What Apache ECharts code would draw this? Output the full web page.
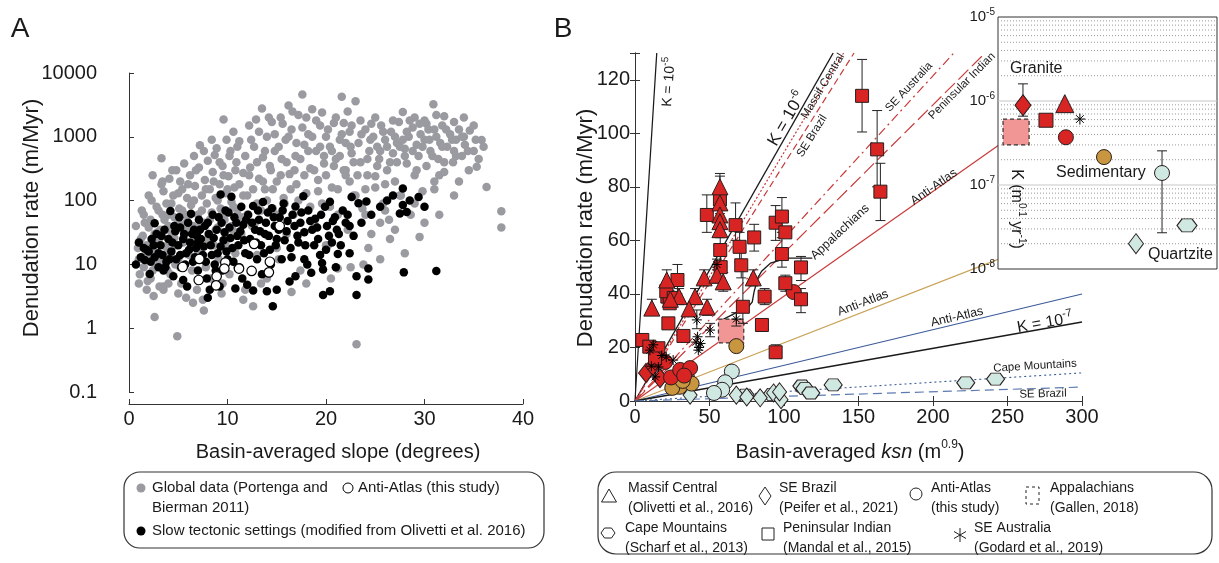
<!DOCTYPE html>
<html><head><meta charset="utf-8">
<script src="https://cdn.jsdelivr.net/npm/echarts@6/dist/echarts.min.js"></script>
<style>html,body{margin:0;padding:0;background:#fff}#c{width:1219px;height:563px}</style>
</head><body><div id="c"></div>
<script>
// ---------------- Panel A data: [slope (deg), denudation rate (m/Myr)] ----------------
const globalData = [
[0.7,40],[0.9,18],[1.0,12],[1.1,7],[1.3,70],[1.4,28],[1.5,9],[1.6,45],[1.8,20],[1.9,5.5],[2.0,38],[2.1,14],[2.2,6],[2.3,100],[2.4,250],[2.5,16],[2.6,1.5],[2.7,9],[2.8,80],[2.9,32],[3.0,24],[3.1,4.5],[3.2,11],[3.3,460],[3.3,180],[3.4,60],[3.5,4],[3.5,140],[3.6,50],[3.7,19],[3.8,35],[3.9,8],[4.0,60],[4.0,16],[4.1,220],[4.2,7],[4.3,90],[4.4,30],[4.5,120],[4.6,26],[4.7,10],[4.8,300],[4.9,0.75],[5.0,45],[5.0,12],[5.1,75],[5.2,200],[5.3,5],[5.4,150],[5.5,22],[5.6,380],[5.7,60],[5.8,3],[5.9,110],[6.0,35],
[6.1,14],[6.2,250],[6.3,85],[6.4,8],[6.5,40],[6.6,500],[6.7,170],[6.8,25],[6.9,4],[7.0,60],[7.1,330],[7.2,740],[7.3,18],[7.4,120],[7.5,2.8],[7.6,45],[7.7,210],[7.8,9],[7.9,90],[8.0,420],[8.1,30],[8.2,150],[8.3,6],[8.4,65],[8.5,280],[8.6,20],[8.7,520],[8.8,110],[8.9,660],[9.0,38],[9.1,12],[9.2,180],[9.3,75],[9.4,3.5],[9.5,350],[9.6,1870],[9.7,50],[9.8,130],[9.9,900],[10.0,25],[10.1,240],[10.2,7],[10.3,600],[10.4,95],[10.5,35],[10.6,1200],[10.7,160],[10.8,15],[10.9,400],[11.0,70],[11.2,850],[11.4,55],[11.6,270],[11.8,4],[12.0,120],
[12.2,1500],[12.3,330],[12.5,40],[12.7,700],[12.9,1870],[13.0,90],[13.2,220],[13.4,5],[13.5,2770],[13.6,480],[13.8,150],[14.0,1000],[14.1,28],[14.3,350],[14.5,1700],[14.6,75],[14.8,600],[15.0,200],[15.2,12],[15.4,2000],[15.5,450],[15.7,110],[15.9,900],[16.0,30],[16.2,3100],[16.3,260],[16.5,1300],[16.7,60],[16.9,500],[17.0,180],[17.2,2200],[17.4,8],[17.6,4600],[17.8,750],[18.0,130],[18.2,1100],[18.4,320],[18.6,2700],[18.8,45],[19.0,600],[19.2,210],[19.4,1500],[19.6,90],[19.8,380],[20.0,1000],[20.2,20],[20.4,700],[20.6,160],[20.8,1640],[21.0,450],[21.2,60],[21.4,900],[21.6,4250],[21.8,1640],[22.0,250],[22.2,35],[22.4,1200],[22.6,550],[22.8,120],[23.0,3600],[23.1,0.56],
[23.3,800],[23.5,400],[23.7,75],[24.0,1300],[24.2,250],[24.4,600],[24.6,30],[24.8,1000],[25.0,160],[25.2,700],[25.4,450],[25.6,1500],[25.8,90],[26.0,900],[26.2,300],[26.4,50],[26.6,1200],[26.8,550],[27.0,200],[27.2,800],[27.4,1700],[27.6,120],[27.8,2450],[28.0,650],[28.2,380],[28.4,1000],[28.6,60],[28.8,1400],[29.0,250],[29.2,750],[29.4,500],[29.6,1100],[29.8,140],[30.0,900],[30.2,350],[30.4,1300],[30.6,600],[30.9,3240],[31.0,200],[31.2,1000],[31.4,450],[31.6,800],[31.8,1500],[32.0,280],[32.3,700],[32.6,1100],[32.9,400],[33.2,900],[33.5,1300],[33.8,500],[34.1,750],[34.6,1260],[35.0,600],[35.3,340],[35.8,890],[36.3,163],[37.8,68],[37.8,38],[24.3,18],[26.5,25],[22.5,9],[20.5,6],
[21.2,8.6],[23.8,10],[16.5,3.7],[12.6,2.2],[11.6,2.8],[7.6,1.9],[28,15],[29.5,27],[18,5],[14,6],[25.5,12],[27,35],[30,45],[26,70],[31.5,60],[33,120],[24,150],[22,300],[20,20],[9.5,5],[11,9],[13,14],[15,18],
[25,2000],[27,1000],[28,500],[29,2000],[30,1800],[31,1300],[32,2100],[33,1700],[34,2000],[34,1000],[33,600],[32,400],[31.5,250],[30.5,900],[29.5,1600],[28.5,1800],[27.5,700],[26.5,400],[25.5,600],[24.5,900],[23.5,1800],[22.5,700],[35,1500],[36,700],[35.5,450],[34.5,300],[33.5,200],[31,150],[29,90],[27.5,120],[26,180],[25,240],[23,120],[24,60],[25.5,45],
[1.8,4],[2.5,3.2],[3.5,4.5],[5,3.5],[6.5,2.5],[1,5],[4,5],
[1.2,25],[1.5,60],[1.7,15],[2.0,120],[2.2,50],[2.4,8],[2.6,30],[2.8,12],[3.0,70],[3.2,35],[3.4,200],[3.6,10],[3.8,90],[4.0,40],[4.2,15],[4.4,300],[4.6,55],[4.8,20],[5.0,130],[5.2,9],[5.4,70],[5.6,25],[5.8,45],[6.0,180],[6.2,60],[6.4,20],[6.6,100],[6.8,300],[7.0,15],[7.2,40],[7.4,70],[7.6,600],[7.8,150],[8.0,25],[8.2,50],[8.4,900],[8.6,200],[8.8,35],[9.0,100],[9.2,400],[9.4,60],[9.6,250],[9.8,20],[10.0,150],[10.2,500],[10.4,40],[10.6,80],[10.8,300],[11.0,700],[11.2,180],[11.4,30],[11.6,120],[11.8,500],[12.0,60],[12.2,250],[12.4,900],[12.6,150],[12.8,45],[13.0,400],[13.2,1200],[13.4,70],[13.6,200],[13.8,600],[14.0,100],[14.2,2000],[14.4,300],[14.6,150],[14.8,1100],[15.0,60],[15.2,700],[15.4,250],[15.6,1600],[15.8,90],[16.0,400],[16.2,1000],[16.4,150],[16.6,2500],[16.8,300],[17.0,800],[17.2,100],[17.4,450],[17.6,1400],[17.8,250],[18.0,2000],[18.2,600],[18.4,80],[18.6,1000],[18.8,300],[19.0,1800],[19.2,140],[19.4,700],[19.6,2400],[19.8,500],[20.0,250],[20.2,1300],[20.4,80],[20.6,600],[20.8,350],[21.0,2000],[21.2,150],[21.4,500],[21.6,1100],[21.8,300],[22.0,800],[22.2,2500],[22.4,200],[22.6,1500],[22.8,400],[23.2,250],[23.6,1100],[24.2,450],[24.6,1600],[25.2,350],[25.8,1200],[26.2,700],[26.8,1800],[27.2,400],[27.8,900],[28.2,1200],[28.8,600],[29.2,300],[29.8,700],[30.2,1600],[30.8,500],[31.2,2200],[31.8,700],[32.2,1300],[32.8,900],[33.2,500],[33.8,1000],[34.4,600],[35.2,900]
];
const slowTectonic = [
[0.7,10],[1.2,13],[1.6,11.7],[1.8,17],[2.1,7.1],[2.3,25],[2.6,13],[2.6,44],[2.8,30],[3.0,9],[3.2,20],[3.4,14],[3.6,35],[3.8,11],[4.0,25],[4.2,69],[4.3,16],[4.5,6.5],[4.6,40],[4.8,12],[5.0,20],[5.1,55],[5.3,9],[5.5,5.7],[5.6,30],[5.8,15],[5.9,4.5],[6.0,45],[6.2,22],[6.3,62],[6.5,11],[6.6,35],[6.8,18],[7.0,8],[7.1,50],[7.3,25],[7.5,14],[7.7,40],[7.9,6],[8.0,3],[8.1,30],[8.2,4],[8.3,20],[8.5,60],[8.7,10],[8.9,35],[9.0,15],[9.2,4.5],[9.3,125],[9.4,45],[9.6,24],[9.8,70],[10.0,12],[10.2,38],[10.4,115],[10.5,18],[10.7,55],[10.8,4.2],[11.0,28],[11.2,9],[11.4,80],[11.6,42],[11.8,15],[12.0,4.8],[12.1,60],[12.3,25],[12.6,82],[12.6,3.9],[12.8,35],[13.0,12],[13.2,50],[13.4,20],[13.6,95],[13.8,30],[14.0,3.8],[14.1,65],[14.3,17],[14.5,76],[14.6,2.2],[14.8,40],[15.0,4],[15.0,25],[15.3,55],[15.5,12],[15.7,90],[16.0,33],[16.3,5.4],[16.4,18],[16.6,60],[16.9,81],[16.9,6.5],[17.1,28],[17.4,45],[17.7,117],[17.9,20],[18.2,70],[18.5,7.4],[18.6,35],[18.9,52],[19.2,25],[19.4,14],[19.6,10.5],[19.7,8.3],[19.7,3.3],[19.9,80],[20.1,40],[20.4,96],[20.4,3.8],[20.6,22],[20.9,55],[21.2,14.5],[21.3,30],[21.7,70],[22.0,45],[22.4,40],[22.4,15],[22.6,114],[23.1,6.5],[23.1,3.3],[23.3,91],[24.1,97],[24.3,8.6],[24.3,5.8],[24.6,60],[26.8,120],[27.5,63],[27.8,155],[27.8,85],[27.9,7.5],[28.2,66],[29.4,114],[31.2,7.9],[1.0,22],[2.0,16],[3.5,8],[5.2,38],[6.9,28],[9.5,8],[11.5,6],[13.5,7],[17.8,12],[21.0,9],
[1.5,18],[2.2,11],[2.5,20],[3.0,15],[3.3,28],[3.7,9],[4.1,12],[4.4,22],[4.7,33],[5.2,14],[5.5,25],[5.7,10],[6.1,17],[6.4,30],[6.7,13],[7.0,22],[7.2,35],[7.6,19],[7.8,11],[8.0,45],[8.4,14],[8.6,26],[8.8,8],[9.1,55],[9.3,19],[9.7,32],[9.9,16],[10.1,65],[10.3,26],[10.6,11],[10.9,45],[11.1,20],[11.3,33],[11.7,24],[11.9,50],[12.2,14],[12.5,45],[12.9,22],[13.1,70],[13.3,33],[13.7,15],[13.9,45],[14.2,28],[14.4,10],[14.7,55],[14.9,20],[15.2,35],[15.6,70],[15.8,24],[16.1,48],[16.5,13],[16.8,40],[17.2,22],[17.5,65],[17.8,32],[18.1,10],[18.4,48],[18.8,20],[19.1,38],[19.5,60],[20.0,17],[20.3,28],[20.7,48],[21.1,35],[21.5,20],[22.2,60],[22.8,28],[23.6,45],[25.5,80],[26.2,100],[28.5,100],[30,80]
];
const antiAtlasA = [[5.45,9.1],[7.14,12.2],[7.08,5.7],[8.9,6.5],[8.84,4.7],[9.78,10.7],[9.68,8.6],[11.17,8.6],[12.45,7.9],[14.3,11],[14.2,7.5],[12.7,21],[15.3,40]];
const slopeTicks = [0,10,20,30,40];

// ---------------- Panel B data: [ksn, denudation rate, errLow, errHigh] ----------------
const massifCentral = [[57,80,75,85],[57,74,null,null],[57,69.5,null,null],[57,67,null,null],[57,64,null,null],[21.3,45.2,42,49],[29.6,39,36,42],[40.3,39,36,42],[36.3,34.4,null,null],[48.4,35.1,32,38],[46.4,46,43,49],[55,47,44,50],[59.2,44.5,41,48],[79.4,46,43,49],[11.3,34.7,32,38],[23.7,38,null,null]];
const peninsularIndian = [[152.4,114,100.5,127.6],[162.5,94,80,108.5],[164.7,78.2,67.4,88.8],[48.2,69.5,63,77],[57,75.3,70,84],[57.2,56.4,52,61],[57.5,50,46,54],[67.5,65.7,60,74],[70.2,57.6,52,63],[71.3,50.7,46,56],[72.4,35.2,29,49.6],[80,61.1,56,66],[87,39,36,42],[85.2,28.4,26,30],[94.4,18.2,16,21],[94.4,66.6,60,73],[98.6,68.9,63,76],[100.9,63,null,null],[98.6,54.9,50,61],[100.9,44,41,47],[111.4,49.9,45,54],[111.4,38,33,42],[4.9,22.8,null,null],[9.6,20.3,null,null],[15.7,19.7,null,null],[13.4,15.9,null,null],[22.4,29,27,31],[21.7,39,null,null],[28.5,45.2,40,51],[23.3,36.5,null,null],[32.5,24.3,null,null],[21,41,38,44],[26,38.5,null,null]];
const seBrazilGranite = [[7.4,10.5],[16.8,8.5],[12,13]];
const antiAtlasGranite = [[24.2,8.8],[30.3,11.6],[37,12.3],[20.2,14.6],[106.5,40.7],[33,9.5]];
const antiAtlasSedimentary = [[68,20.5],[35,8.6],[30,5.3],[38,6.5],[25,4.9],[32,7.5]];
const antiAtlasQuartzite = [[65,11],[60.5,7],[58.5,4.2],[53,3]];
const seBrazilQuartzite = [[37,2.2],[68,2.2],[75,1.5],[84,1.2],[93,3],[98,0.5],[97,3.4]];
const capeMountains = [[74,2.2],[92,2.5],[112,5.6],[114,4.6],[118,3],[133,6],[222,6.8],[242,8.2]];
const seAustralia = [[41,22,null,null],[43,20,null,null],[42,24,null,null],[44,21.5,null,null],[42.5,19,null,null],[50.4,26.5,24,29],[41.5,30.3,27,34],[68,30.6,28,33],[21,16.4,null,null],[25.6,15.3,null,null],[12.3,21,null,null],[15.7,12.7,null,null],[13.5,9,null,null],[55,51,49,53],[18,17,null,null],[11,13,null,null],[10,19,null,null]];
const appalachiansBox = [[56,73,21.7,30.6]];           // ksn range, rate range
const appalachiansArrow = [[119,53.4],[102,53.4],[91,51.5],[85,48.5],[82.7,46.3],[80,41],[78.7,37],[75.3,34.7],[68.6,33.2],[58.5,30.3]];
// K lines: end points of straight lines through the origin
const kLines = [
  {name:'K = 1e-5', end:[14.6,130], color:'#1a1a1a', width:1.2, type:'solid'},
  {name:'K = 1e-6', end:[133,130], color:'#1a1a1a', width:1.4, type:'solid'},
  {name:'Massif Central', end:[140,130], color:'#c93a3a', width:1.2, type:[2,2]},
  {name:'SE Brazil', end:[147,130], color:'#c93a3a', width:1.2, type:[7,4]},
  {name:'SE Australia', end:[214,130], color:'#c93a3a', width:1.2, type:[9,4,2,4]},
  {name:'Peninsular Indian', end:[235,130], color:'#c93a3a', width:1.2, type:[14,5]},
  {name:'Anti-Atlas granite', end:[244,95.5], color:'#c93a3a', width:1.2, type:'solid'},
  {name:'Anti-Atlas sedimentary', end:[244,53], color:'#c9a45a', width:1.1, type:'solid'},
  {name:'Anti-Atlas quartzite', end:[300,40], color:'#3b5a98', width:1.1, type:'solid'},
  {name:'K = 1e-7', end:[300,29.5], color:'#1a1a1a', width:1.4, type:'solid'},
  {name:'Cape Mountains', end:[300,10.5], color:'#3b5a98', width:1.1, type:[2,3]},
  {name:'SE Brazil quartzite', end:[300,5.2], color:'#5d7bb0', width:1.2, type:[9,5]}
];
const ksnTicks = [0,50,100,150,200,250,300];
const rateTicks = [0,20,40,60,80,100,120];

// ---------------- Inset data: [position, K, errLow, errHigh] ----------------
const insetAppalachians = [[0.23,1.42,3.0e-7,6.1e-7]];
const insetSEBrazilGranite = [[1.14,8.9e-7,6.6e-7,1.6e-6]];
const insetPeninsular = [[2.19,5.9e-7,null,null]];
const insetMassif = [[3.05,9.3e-7,null,null]];
const insetAntiAtlasGranite = [[3.1,3.7e-7,null,null]];
const insetSEAustralia = [[3.74,6.1e-7,null,null]];
const insetSedimentary = [[4.84,2.15e-7,null,null]];
const insetSEBrazilQuartz = [[6.3,2.0e-8,null,null]];
const insetQuartzite = [[7.49,1.39e-7,2.7e-8,2.55e-7]];
const insetCape = [[8.63,3.3e-8,null,null]];
const insetMajor = [1e-7,1e-6];
const insetMinor = [2e-8,3e-8,4e-8,5e-8,6e-8,7e-8,8e-8,9e-8,2e-7,3e-7,4e-7,5e-7,6e-7,7e-7,8e-7,9e-7,2e-6,3e-6,4e-6,5e-6,6e-6,7e-6,8e-6,9e-6];

// ---------------- styles ----------------
const F = '"Liberation Sans", Arial, Helvetica, sans-serif';
const RED = '#d92424', GOLD = '#c99640', PALE = '#cfe8e2', PINK = '#f29595', EDGE = '#2a1d1d';
const GRAY = '#999ba0';
const HEX = 'path://M-10,0L-5,-7L5,-7L10,0L5,7L-5,7Z';
const STAR = 'path://M0,-10L0,10M-10,0L10,0M-7,-7L7,7M-7,7L7,-7';

function sc(data, xi, yi, symbol, size, color, z, border, bw) {
  return {type:'scatter', xAxisIndex:xi, yAxisIndex:yi, data:data.map(d=>[d[0],d[1]]),
    symbol, symbolSize:size, z, silent:true, animation:false, large:false,
    itemStyle:{color, borderColor: border||EDGE, borderWidth: bw==null?1:bw, opacity:1}};
}
function errBars(data, xi, yi, z, cap) {
  return {type:'custom', xAxisIndex:xi, yAxisIndex:yi, z, silent:true, animation:false,
    dimensions:['x','lo','hi'], encode:{x:0, y:[1,2]},
    data: data.filter(d=>d[2]!=null).map(d=>[d[0],d[2],d[3]]),
    renderItem:(p, api)=>{
      const a = api.coord([api.value(0), api.value(1)]);
      const b = api.coord([api.value(0), api.value(2)]);
      const st = {stroke:'#222', lineWidth:1};
      return {type:'group', children:[
        {type:'line', shape:{x1:a[0],y1:a[1],x2:b[0],y2:b[1]}, style:st},
        {type:'line', shape:{x1:a[0]-cap,y1:a[1],x2:a[0]+cap,y2:a[1]}, style:st},
        {type:'line', shape:{x1:b[0]-cap,y1:b[1],x2:b[0]+cap,y2:b[1]}, style:st}]};
    }};
}
function boxSeries(data, xi, yi, z) {
  return {type:'custom', xAxisIndex:xi, yAxisIndex:yi, z, silent:true, animation:false,
    dimensions:['x0','x1','y0','y1'], encode:{x:[0,1], y:[2,3]}, data,
    renderItem:(p, api)=>{
      const a = api.coord([api.value(0), api.value(3)]);
      const b = api.coord([api.value(1), api.value(2)]);
      return {type:'rect', shape:{x:a[0], y:a[1], width:b[0]-a[0], height:b[1]-a[1]},
        style:{fill:PINK, stroke:'#333', lineWidth:1.2, lineDash:[4,3]}};
    }};
}
function hlines(levels, xi, yi, z, color, dash, w) {
  return {type:'custom', xAxisIndex:xi, yAxisIndex:yi, z, silent:true, animation:false,
    dimensions:['v'], encode:{y:0}, data: levels.map(v=>[v]),
    renderItem:(p, api)=>{
      const a = api.coord([0, api.value(0)]), b = api.coord([10, api.value(0)]);
      return {type:'line', shape:{x1:a[0], y1:a[1], x2:b[0], y2:b[1]}, style:{stroke:color, lineWidth:w, lineDash:dash}};
    }};
}

const series = [];
// Panel A
series.push(sc(globalData, 0, 0, 'circle', 8.5, GRAY, 2, GRAY, 0));
series.push(sc(slowTectonic, 0, 0, 'circle', 8.5, '#000', 3, '#000', 0));
series.push(sc(antiAtlasA, 0, 0, 'circle', 9.5, '#fff', 4, '#000', 1.2));
// Panel B lines
kLines.forEach(l => series.push({type:'line', xAxisIndex:1, yAxisIndex:1, data:[[0,0], l.end], symbol:'none', silent:true,
  animation:false, z:2, lineStyle:{color:l.color, width:l.width, type:l.type}}));
series.push({type:'lines', coordinateSystem:'cartesian2d', xAxisIndex:1, yAxisIndex:1, polyline:true, silent:true, animation:false, z:3,
  symbol:['none','arrow'], symbolSize:8, lineStyle:{color:'#1a1a1a', width:1.3, opacity:1}, data:[{coords: appalachiansArrow}]});
series.push(boxSeries(appalachiansBox, 1, 1, 3));
[peninsularIndian, massifCentral, seAustralia].forEach(d => series.push(errBars(d, 1, 1, 4, 5)));
series.push(sc(capeMountains, 1, 1, HEX, [18,12], PALE, 5));
series.push(sc(seBrazilQuartzite, 1, 1, 'diamond', [14,18], PALE, 5));
series.push(sc(antiAtlasQuartzite, 1, 1, 'circle', 15, PALE, 5));
series.push(sc(antiAtlasSedimentary, 1, 1, 'circle', 15, GOLD, 5));
series.push(sc(seBrazilGranite, 1, 1, 'diamond', [15,19], RED, 5));
series.push(sc(antiAtlasGranite, 1, 1, 'circle', 15, RED, 5));
series.push(sc(peninsularIndian, 1, 1, 'rect', 13, RED, 6));
series.push(sc(massifCentral, 1, 1, 'triangle', 16, RED, 7));
series.push(sc(seAustralia, 1, 1, STAR, 10, '#000', 8, '#000', 1));
// Inset
series.push(hlines(insetMinor, 3, 3, 21, '#9a9a9a', [1,2], 1));
series.push(hlines(insetMajor, 3, 3, 21, '#c8c8c8', null, 1.2));
series.push(boxSeries(insetAppalachians, 3, 3, 22));
[insetSEBrazilGranite, insetQuartzite].forEach(d => series.push(errBars(d, 3, 3, 22, 5)));
series.push(sc(insetSEBrazilGranite, 3, 3, 'diamond', [16,21], RED, 23));
series.push(sc(insetPeninsular, 3, 3, 'rect', 14, RED, 23));
series.push(sc(insetMassif, 3, 3, 'triangle', 18, RED, 23));
series.push(sc(insetAntiAtlasGranite, 3, 3, 'circle', 15, RED, 23));
series.push(sc(insetSEAustralia, 3, 3, STAR, 11, '#000', 23, '#000', 1));
series.push(sc(insetSedimentary, 3, 3, 'circle', 15, GOLD, 23));
series.push(sc(insetQuartzite, 3, 3, 'circle', 15, PALE, 23));
series.push(sc(insetCape, 3, 3, HEX, [20,13], PALE, 23));
series.push(sc(insetSEBrazilQuartz, 3, 3, 'diamond', [15,20], PALE, 23));

// ---------------- graphic helpers ----------------
const supRich = (n, s) => ({n:{fontSize:n, fontFamily:F, fill:'#1a1a1a', lineHeight:n+6}, s:{fontSize:s, fontFamily:F, fill:'#1a1a1a', verticalAlign:'top', lineHeight:s+2}, i:{fontSize:n, fontFamily:F, fontStyle:'italic', fill:'#1a1a1a', lineHeight:n+6}});
function T(text, x, y, size, align, rotDeg, rich) {
  const st = {text, fontSize:size, fontFamily:F, fill:'#1a1a1a', align:align||'center', verticalAlign:'middle'};
  if (rich) st.rich = rich;
  return {type:'text', x, y, rotation:(rotDeg||0)*Math.PI/180, z:100, silent:true, style:st};
}
const S = {fill:'none', stroke:'#222', lineWidth:1};
const gfx = [
  T('A', 20, 29, 28), T('B', 563, 29, 28),
  T('Basin-averaged slope (degrees)', 338, 452, 20),
  T('Denudation rate (m/Myr)', 32, 218, 22, 'center', 90),
  T('{n|Basin-averaged }{i|ksn}{n| (m}{s|0.9}{n|)}', 850, 452, 20, 'center', 0, supRich(20,12)),
  T('Denudation rate (m/Myr)', 586, 228, 22, 'center', 90),
  // line annotations
  T('{n|K = 10}{s|-5}', 669, 82, 14, 'center', 86, supRich(14,10)),
  T('{n|K = 10}{s|-6}', 787, 119, 17, 'center', 60, supRich(17,11)),
  T('Massif Central', 823, 86, 11.5, 'center', 59),
  T('SE Brazil', 812, 136, 11.5, 'center', 58),
  T('SE Australia', 909, 87, 11.5, 'center', 47),
  T('Peninsular Indian', 962, 86, 11.5, 'center', 45),
  T('Anti-Atlas', 934, 187, 12.5, 'center', 35),
  T('Appalachians', 840, 232, 12.5, 'center', 43),
  T('Anti-Atlas', 863, 303, 12.5, 'center', 21),
  T('Anti-Atlas', 957, 317, 12.5, 'center', 13),
  T('{n|K = 10}{s|-7}', 1045, 323, 16, 'center', 10, supRich(16,11)),
  T('Cape Mountains', 1035, 366, 11.5, 'center', 3.5),
  T('SE Brazil', 1043, 394, 11.5, 'center', 1.5),
  // inset labels
  T('Granite', 1010, 69, 16, 'left'), T('Sedimentary', 1056, 173, 16, 'left'), T('Quartzite', 1148, 255, 16, 'left'),
  T('{n|K (m}{s|0.1}{n| yr}{s|-1}{n|)}', 1016, 209, 16, 'center', -90, supRich(16,10)),
  // legend A
  {type:'rect', z:100, silent:true, shape:{x:124, y:472, width:420, height:76, r:16}, style:{fill:'none', stroke:'#333', lineWidth:1.2}},
  {type:'circle', z:100, silent:true, shape:{cx:141, cy:488, r:4.5}, style:{fill:GRAY}},
  T('Global data (Portenga and', 152, 488, 15, 'left'),
  T('Bierman 2011)', 152, 508, 15, 'left'),
  {type:'circle', z:100, silent:true, shape:{cx:348, cy:488, r:5}, style:{fill:'#fff', stroke:'#000', lineWidth:1}},
  T('Anti-Atlas (this study)', 358, 488, 15, 'left'),
  {type:'circle', z:100, silent:true, shape:{cx:141, cy:531, r:4.5}, style:{fill:'#000'}},
  T('Slow tectonic settings (modified from Olivetti et al. 2016)', 152, 531, 15, 'left'),
  // legend B
  {type:'rect', z:100, silent:true, shape:{x:598, y:472, width:614, height:82, r:18}, style:{fill:'none', stroke:'#333', lineWidth:1.2}},
  {type:'polygon', z:100, silent:true, shape:{points:[[609,489],[616.5,502],[601.5,502]]}, style:S},
  T('Massif Central', 628, 488, 14, 'left'), T('(Olivetti et al., 2016)', 628, 508, 14, 'left'),
  {type:'polygon', z:100, silent:true, shape:{points:[[765,487],[771,496],[765,505],[759,496]]}, style:S},
  T('SE Brazil', 779, 488, 14, 'left'), T('(Peifer et al., 2021)', 779, 508, 14, 'left'),
  {type:'circle', z:100, silent:true, shape:{cx:916, cy:494, r:6}, style:S},
  T('Anti-Atlas', 931, 488, 14, 'left'), T('(this study)', 931, 508, 14, 'left'),
  {type:'rect', z:100, silent:true, shape:{x:1026, y:487, width:13, height:17}, style:{fill:'none', stroke:'#222', lineWidth:1, lineDash:[3,3]}},
  T('Appalachians', 1050, 488, 14, 'left'), T('(Gallen, 2018)', 1050, 508, 14, 'left'),
  {type:'polygon', z:100, silent:true, shape:{points:[[601,533],[604.5,528],[611.5,528],[615,533],[611.5,538],[604.5,538]]}, style:S},
  T('Cape Mountains', 625, 528, 14, 'left'), T('(Scharf et al., 2013)', 625, 548, 14, 'left'),
  {type:'rect', z:100, silent:true, shape:{x:762, y:528, width:12, height:12}, style:S},
  T('Peninsular Indian', 783, 528, 14, 'left'), T('(Mandal et al., 2015)', 783, 548, 14, 'left'),
  {type:'group', z:100, silent:true, x:960, y:535, children:[
    {type:'line', shape:{x1:0,y1:-7,x2:0,y2:7}, style:{stroke:'#222',lineWidth:1}, z:100},
    {type:'line', shape:{x1:-6,y1:-3.5,x2:6,y2:3.5}, style:{stroke:'#222',lineWidth:1}, z:100},
    {type:'line', shape:{x1:-6,y1:3.5,x2:6,y2:-3.5}, style:{stroke:'#222',lineWidth:1}, z:100}]},
  T('SE Australia', 974, 528, 14, 'left'), T('(Godard et al., 2019)', 974, 548, 14, 'left')
];

const AX = '#333';
const baseAxis = {axisLine:{show:true, lineStyle:{color:AX, width:1}}, axisTick:{show:true, inside:true, length:5, lineStyle:{color:AX}},
  splitLine:{show:false}, axisLabel:{color:'#1a1a1a', fontFamily:F, fontSize:20}};
function ax(o) { return Object.assign({}, JSON.parse(JSON.stringify(baseAxis)), o); }

const option = {
  animation:false, backgroundColor:'#fff',
  grid:[
    {left:129, top:73, width:394, height:319, containLabel:false, outerBoundsMode:'none'},
    {left:635, top:53, width:447, height:348, containLabel:false, outerBoundsMode:'none'},
    {left:998, top:17, width:219, height:252, containLabel:false, outerBoundsMode:'none', show:true, z:20, backgroundColor:'#fff', borderColor:'#333', borderWidth:1}
  ],
  xAxis:[
    ax({gridIndex:0, type:'value', min:slopeTicks[0], max:slopeTicks[slopeTicks.length-1], interval:10, offset:12, axisLabel:{color:'#1a1a1a', fontFamily:F, fontSize:20, margin:5}}),
    ax({gridIndex:1, type:'value', min:ksnTicks[0], max:ksnTicks[ksnTicks.length-1], interval:50, axisLabel:{color:'#1a1a1a', fontFamily:F, fontSize:20, margin:6}}),
    ax({gridIndex:1, type:'value', position:'top', min:0, max:300, interval:50, axisLabel:{show:false}}),
    {gridIndex:2, type:'value', min:0, max:10, show:false}
  ],
  yAxis:[
    ax({gridIndex:0, type:'log', logBase:10, min:0.1, max:10000, offset:27,
      axisLabel:{color:'#1a1a1a', fontFamily:F, fontSize:20, margin:5, formatter:v => v < 1 ? (+v).toFixed(1) : String(Math.round(v))}}),
    ax({gridIndex:1, type:'value', min:rateTicks[0], max:130, interval:20,
      axisLabel:{color:'#1a1a1a', fontFamily:F, fontSize:20, margin:5, formatter:v => v > 125 ? '' : String(v)}}),
    ax({gridIndex:1, type:'value', position:'right', min:0, max:130, interval:20, axisLabel:{show:false}}),
    {gridIndex:2, type:'log', logBase:10, min:1e-8, max:1e-5, z:25, axisLine:{show:false}, axisTick:{show:false}, splitLine:{show:false},
      axisLabel:{margin:3, formatter:v => '{n|10}{s|' + Math.round(Math.log10(v)) + '}', rich:{n:{fontSize:15, fontFamily:F, color:'#1a1a1a', lineHeight:20}, s:{fontSize:10, fontFamily:F, color:'#1a1a1a', verticalAlign:'top', lineHeight:11}}}}
  ],
  graphic:{elements:gfx},
  series
};
const chart = echarts.init(document.getElementById('c'), null, {renderer:'canvas'});
chart.setOption(option);
</script></body></html>
